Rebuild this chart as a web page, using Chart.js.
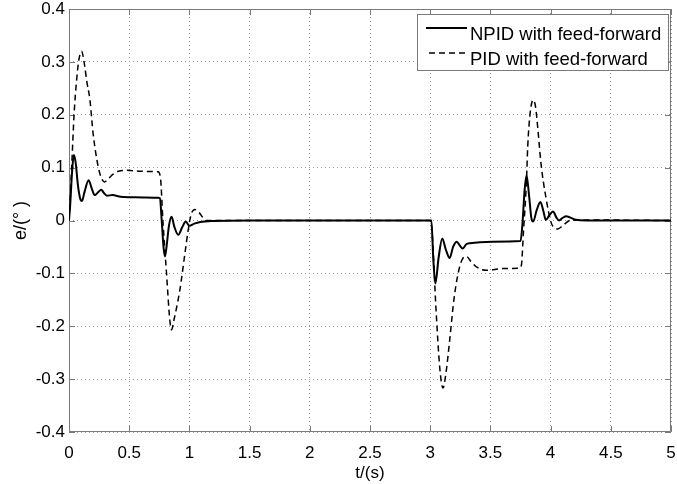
<!DOCTYPE html>
<html>
<head>
<meta charset="utf-8">
<script src="https://cdn.jsdelivr.net/npm/chart.js@4.4.1/dist/chart.umd.min.js"></script>
<style>
  html, body { margin: 0; padding: 0; background: #fff; }
  #wrap { width: 677px; height: 484px; }
</style>
</head>
<body>
<div id="wrap"><canvas id="chart" width="677" height="484"></canvas></div>
<script>
// series labels
var seriesNames = ["NPID with feed-forward", "PID with feed-forward"];

// NPID with feed-forward (solid)
var npidT = [0, 0.01, 0.025, 0.04, 0.055, 0.075, 0.095, 0.108, 0.13, 0.163, 0.19, 0.213, 0.24, 0.268, 0.29, 0.315, 0.36, 0.43, 0.55, 0.74,
  0.755, 0.77, 0.785, 0.797, 0.81, 0.83, 0.852, 0.875, 0.907, 0.94, 0.97, 1.0, 1.04, 1.09, 1.2, 1.5,
  3.0, 3.01, 3.025, 3.043, 3.07, 3.1, 3.13, 3.162, 3.19, 3.22, 3.245, 3.27, 3.3, 3.33, 3.52, 3.75,
  3.765, 3.785, 3.8, 3.82, 3.84, 3.855, 3.885, 3.915, 3.94, 3.96, 3.99, 4.02, 4.05, 4.07, 4.1, 4.13, 4.2, 4.3, 5];
var npidE = [0, 0.03, 0.09, 0.124, 0.11, 0.065, 0.04, 0.037, 0.055, 0.076, 0.06, 0.048, 0.053, 0.058, 0.052, 0.047, 0.048, 0.045, 0.044, 0.043,
  0.042, 0.0, -0.05, -0.068, -0.05, -0.01, 0.007, -0.012, -0.027, -0.013, -0.002, -0.01, -0.006, -0.003, -0.001, 0,
  0, 0, -0.07, -0.119, -0.07, -0.034, -0.055, -0.071, -0.05, -0.04, -0.047, -0.053, -0.045, -0.043, -0.04, -0.039,
  -0.01, 0.06, 0.085, 0.05, 0.005, -0.002, 0.02, 0.035, 0.018, 0.001, 0.01, 0.017, 0.005, 0.0, 0.005, 0.008, 0.002, 0, 0];

// PID with feed-forward (dashed)
var pidT = [0, 0.01, 0.022, 0.042, 0.065, 0.083, 0.105, 0.125, 0.15, 0.174, 0.2, 0.243, 0.27, 0.295, 0.33, 0.37, 0.41, 0.48, 0.6, 0.74,
  0.76, 0.78, 0.81, 0.838, 0.852, 0.87, 0.921, 0.963, 0.99, 1.015, 1.046, 1.08, 1.14, 1.3,
  3.0, 3.015, 3.05, 3.08, 3.106, 3.13, 3.162, 3.2, 3.245, 3.27, 3.3, 3.34, 3.38, 3.43, 3.47, 3.6, 3.74,
  3.757, 3.775, 3.8, 3.81, 3.83, 3.855, 3.875, 3.895, 3.92, 3.96, 4.006, 4.03, 4.06, 4.1, 4.16, 4.25, 5];
var pidE = [0, 0.04, 0.1, 0.2, 0.27, 0.305, 0.32, 0.3, 0.26, 0.228, 0.165, 0.101, 0.08, 0.073, 0.08, 0.088, 0.093, 0.095, 0.093, 0.092,
  0.08, 0.0, -0.1, -0.19, -0.207, -0.19, -0.131, -0.062, -0.018, 0.012, 0.021, 0.015, 0.0, 0,
  0, -0.02, -0.175, -0.28, -0.317, -0.29, -0.226, -0.144, -0.087, -0.072, -0.068, -0.078, -0.087, -0.093, -0.094, -0.091, -0.09,
  -0.085, -0.02, 0.077, 0.14, 0.203, 0.228, 0.215, 0.171, 0.108, 0.045, -0.005, -0.013, -0.016, -0.01, 0.0, 0.001, 0];

var xTicks = [0, 0.5, 1, 1.5, 2, 2.5, 3, 3.5, 4, 4.5, 5];
var yTicks = [-0.4, -0.3, -0.2, -0.1, 0, 0.1, 0.2, 0.3, 0.4];

function toPoints(t, e) {
  var pts = [];
  for (var i = 0; i < t.length; i++) pts.push({ x: t[i], y: e[i] });
  return pts;
}

var FONT = "'Liberation Sans', Arial, sans-serif";
var FRAME = "#7a7a7a";

// box around the axes + inward tick marks on all four sides
var frameTicks = {
  id: "frameTicks",
  beforeDatasetsDraw: function (chart) {
    var ctx = chart.ctx, a = chart.chartArea;
    var xs = chart.scales.x, ys = chart.scales.y;
    ctx.save();
    ctx.strokeStyle = FRAME;
    ctx.lineWidth = 1;
    ctx.beginPath();
    ctx.rect(a.left + 0.5, a.top + 0.5, a.right - a.left - 1, a.bottom - a.top - 1);
    ctx.stroke();
    ctx.beginPath();
    xTicks.forEach(function (v) {
      var px = Math.round(xs.getPixelForValue(v)) + 0.5;
      ctx.moveTo(px, a.bottom); ctx.lineTo(px, a.bottom - 6);
      ctx.moveTo(px, a.top); ctx.lineTo(px, a.top + 6);
    });
    yTicks.forEach(function (v) {
      var py = Math.round(ys.getPixelForValue(v)) + 0.5;
      ctx.moveTo(a.left, py); ctx.lineTo(a.left + 6, py);
      ctx.moveTo(a.right, py); ctx.lineTo(a.right - 6, py);
    });
    ctx.stroke();
    ctx.restore();
  }
};

// boxed legend in the upper right corner of the axes
var boxLegend = {
  id: "boxLegend",
  afterDraw: function (chart) {
    var ctx = chart.ctx;
    var x0 = 417, y0 = 14, x1 = 668, y1 = 70;
    ctx.save();
    ctx.fillStyle = "#fff";
    ctx.fillRect(x0, y0, x1 - x0, y1 - y0);
    ctx.strokeStyle = FRAME;
    ctx.lineWidth = 1;
    ctx.strokeRect(x0 + 0.5, y0 + 0.5, x1 - x0, y1 - y0);
    var rows = [28, 53];
    chart.data.datasets.forEach(function (ds, i) {
      ctx.strokeStyle = ds.borderColor;
      ctx.lineWidth = ds.borderWidth;
      ctx.setLineDash(ds.borderDash || []);
      ctx.beginPath();
      ctx.moveTo(i === 0 ? 426 : 429, rows[i]);
      ctx.lineTo(467, rows[i]);
      ctx.stroke();
      ctx.setLineDash([]);
      ctx.fillStyle = "#000";
      ctx.font = "18.5px " + FONT;
      ctx.textBaseline = "middle";
      ctx.textAlign = "left";
      ctx.fillText(ds.label, 470, rows[i] + 7);
    });
    ctx.restore();
  }
};

function noPad(s) {
  s.paddingTop = 0;
  s.paddingBottom = 0;
  s.paddingLeft = 0;
  s.paddingRight = 0;
}

var ctx = document.getElementById("chart").getContext("2d");

var chart = new Chart(ctx, {
  type: "line",
  data: {
    datasets: [
      {
        label: seriesNames[0],
        data: toPoints(npidT, npidE),
        borderColor: "#000",
        borderWidth: 2,
        pointRadius: 0,
        cubicInterpolationMode: "monotone",
        fill: false,
      },
      {
        label: seriesNames[1],
        data: toPoints(pidT, pidE),
        borderColor: "#000",
        borderWidth: 1.5,
        borderDash: [6, 4],
        pointRadius: 0,
        cubicInterpolationMode: "monotone",
        fill: false,
      },
    ],
  },
  options: {
    responsive: false,
    animation: false,
    devicePixelRatio: 1,
    layout: { padding: { top: 9, right: 6, left: 0, bottom: 0 } },
    plugins: { legend: { display: false }, tooltip: { enabled: false } },
    scales: {
      x: {
        type: "linear",
        min: 0,
        max: 5,
        afterBuildTicks: function (s) { s.ticks = xTicks.map(function (v) { return { value: v }; }); },
        afterFit: function (s) { s.height = 52; noPad(s); },
        ticks: {
          color: "#000",
          font: { family: FONT, size: 17 },
          padding: 11,
          maxRotation: 0,
          callback: function (v) { return String(v); },
        },
        grid: { color: "#9a9a9a", drawTicks: false },
        border: { display: false, dash: [1, 3] },
        title: { display: true, text: "t/(s)", color: "#000", font: { family: FONT, size: 17 }, padding: { top: 0, bottom: 0 } },
      },
      y: {
        min: -0.4,
        max: 0.4,
        afterBuildTicks: function (s) { s.ticks = yTicks.map(function (v) { return { value: v }; }); },
        afterFit: function (s) { s.width = 69; noPad(s); },
        ticks: {
          color: "#000",
          font: { family: FONT, size: 17 },
          padding: 4,
          callback: function (v) { return String(Math.round(v * 10) / 10); },
        },
        grid: { color: "#9a9a9a", drawTicks: false },
        border: { display: false, dash: [1, 3] },
        title: { display: true, text: "e/(° )", color: "#000", font: { family: FONT, size: 18 }, padding: { top: 10, bottom: 0 } },
      },
    },
  },
  plugins: [frameTicks, boxLegend],
});
</script>
</body>
</html>
